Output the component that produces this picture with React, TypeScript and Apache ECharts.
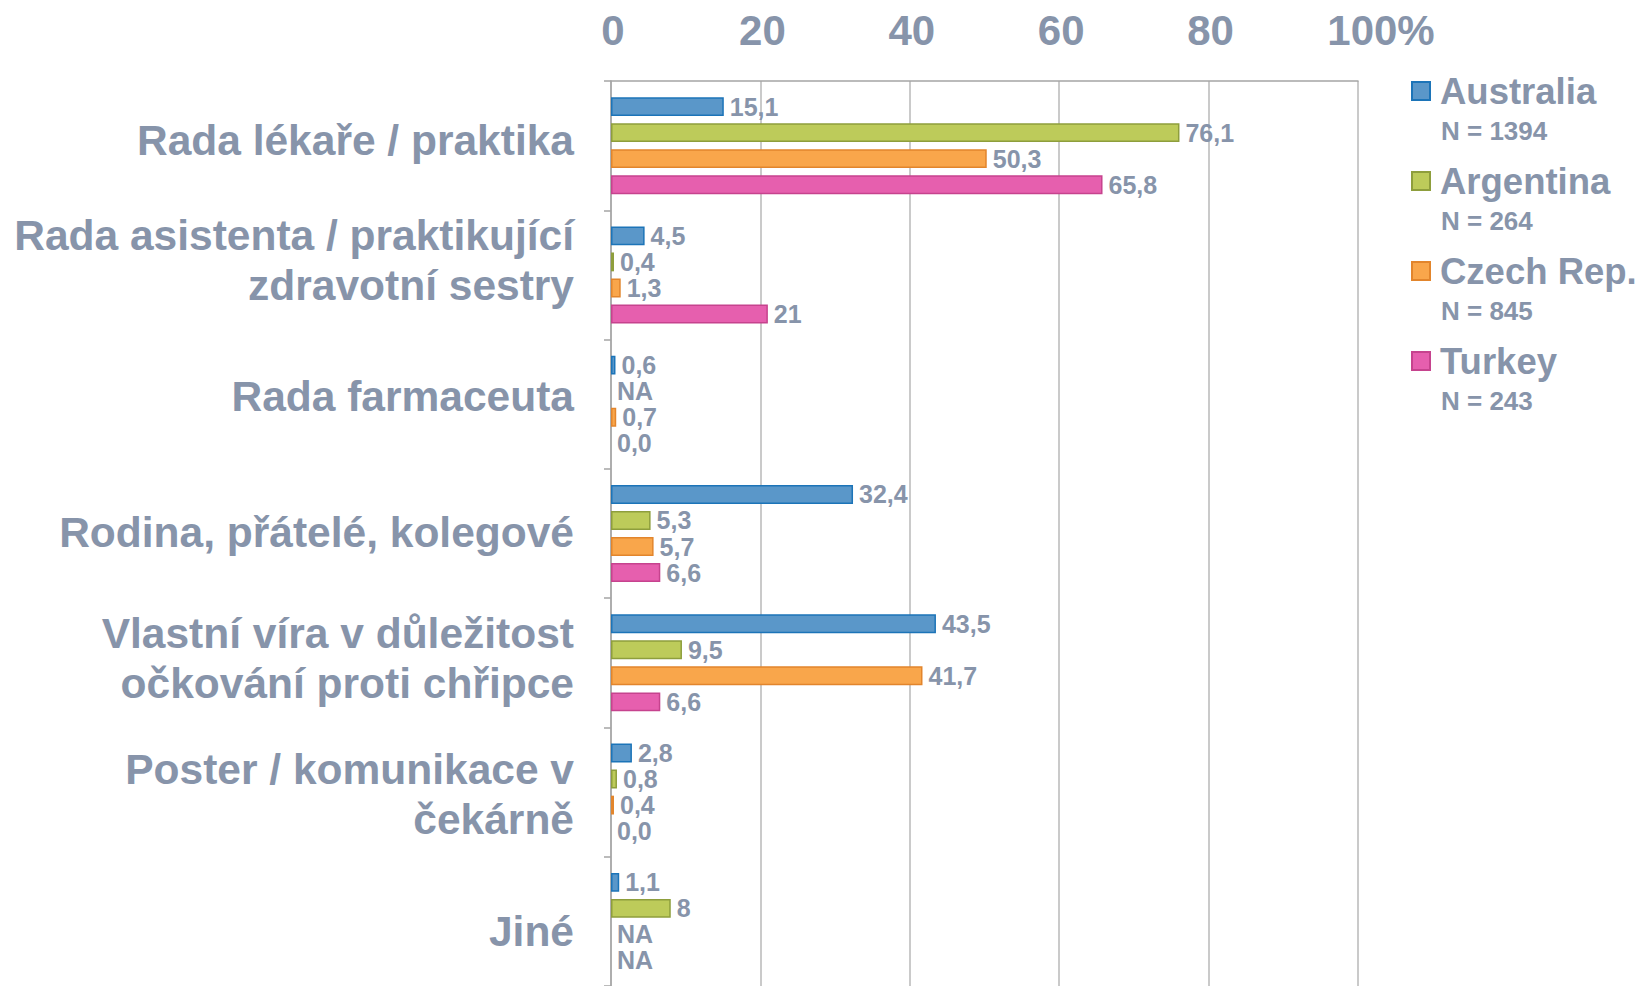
import React, { useEffect, useRef } from 'react';
import * as echarts from 'echarts';

const categories = [
  'Rada lékaře / praktika',
  'Rada asistenta / praktikující\nzdravotní sestry',
  'Rada farmaceuta',
  'Rodina, přátelé, kolegové',
  'Vlastní víra v důležitost\nočkování proti chřipce',
  'Poster / komunikace v\nčekárně',
  'Jiné',
];
const seriesNames = ['Australia', 'Argentina', 'Czech Rep.', 'Turkey'];
const sampleSizes = [1394, 264, 845, 243];
const australia: (number | null)[] = [15.1, 4.5, 0.6, 32.4, 43.5, 2.8, 1.1];
const argentina: (number | null)[] = [76.1, 0.4, null, 5.3, 9.5, 0.8, 8];
const czech: (number | null)[] = [50.3, 1.3, 0.7, 5.7, 41.7, 0.4, null];
const turkey: (number | null)[] = [65.8, 21, 0.0, 6.6, 6.6, 0.0, null];
const xTicks = [0, 20, 40, 60, 80, 100];

const fills = ['#5a97c9', '#bdcb5a', '#f9a64b', '#e65fae'];
const borders = ['#1c74b8', '#8e9e3c', '#e2852c', '#c6438e'];
const TEXT = '#8794aa';
const FONT = '"Liberation Sans", Arial, Helvetica, sans-serif';
// vertical nudges of the category labels in px (negative = up)
const labelShift = [-5, -14, -8, -1, -4, 2, 10];

const fmt = (v: number | null) => {
  if (v === null) return 'NA';
  if (Number.isInteger(v) && v !== 0) return String(v);
  return v.toFixed(1).replace('.', ',');
};

export default function App() {
  const ref = useRef<HTMLDivElement>(null);
  useEffect(() => {
    if (!ref.current) return;
    const chart = echarts.init(ref.current, undefined, { renderer: 'svg' });
    const all = [australia, argentina, czech, turkey];
    const series = all.map((vals, si) => ({
      name: seriesNames[si],
      type: 'bar',
      barCategoryGap: '25%',
      barGap: '38%',
      itemStyle: { color: fills[si], borderColor: borders[si], borderWidth: 1.5 },
      label: {
        show: true,
        position: 'right',
        distance: 6,
        color: TEXT,
        fontFamily: FONT,
        fontWeight: 'bold',
        fontSize: 25,
        lineHeight: 22,
        formatter: (p: any) => fmt(all[p.seriesIndex][p.dataIndex]),
      },
      data: vals.map((v) =>
        v === null || v === 0
          ? { value: 0, itemStyle: { color: 'rgba(0,0,0,0)', borderWidth: 0 } }
          : v
      ),
    }));
    const rich: any = {
      t: { color: TEXT, fontFamily: FONT, fontWeight: 'bold', fontSize: 42.5, lineHeight: 50, align: 'right' },
    };
    labelShift.forEach((s, i) => {
      rich['sp' + i] = { fontSize: 1, lineHeight: Math.max(1, Math.abs(s) * 2), height: Math.max(1, Math.abs(s) * 2) };
    });
    chart.setOption({
      animation: false,
      grid: { left: 611, top: 81, width: 747, height: 910, containLabel: false },
      xAxis: {
        type: 'value',
        position: 'top',
        min: xTicks[0],
        max: xTicks[xTicks.length - 1],
        interval: 20,
        axisLine: { show: true, lineStyle: { color: '#a5a5a5', width: 1.5 } },
        axisTick: { show: false },
        splitLine: { show: true, lineStyle: { color: '#b9b9b9', width: 1.5 } },
        axisLabel: {
          margin: 30,
          color: TEXT,
          fontFamily: FONT,
          fontWeight: 'bold',
          fontSize: 42,
          formatter: (v: number) =>
            v === 100 ? '{pad2|}{n|100}{n|%}' : '{pad|}{n|' + v + '}',
          rich: {
            n: { color: TEXT, fontFamily: FONT, fontWeight: 'bold', fontSize: 42 },
            pad: { width: 4 },
            pad2: { width: 46 },
          },
        },
      },
      yAxis: {
        type: 'category',
        inverse: true,
        data: categories,
        axisLine: { show: true, lineStyle: { color: '#a5a5a5', width: 1.5 } },
        axisTick: { show: true, length: 7, lineStyle: { color: '#a5a5a5', width: 1.5 } },
        splitLine: { show: false },
        axisLabel: {
          margin: 37,
          color: TEXT,
          fontFamily: FONT,
          fontWeight: 'bold',
          fontSize: 42.5,
          lineHeight: 50,
          align: 'right',
          rich,
          formatter: (value: string, index: number) => {
            const body = value
              .split('\n')
              .map((l) => '{t|' + l + '}')
              .join('\n');
            const s = labelShift[index] || 0;
            if (s < 0) return body + '\n{sp' + index + '| }';
            if (s > 0) return '{sp' + index + '| }\n' + body;
            return body;
          },
        },
      },
      legend: {
        orient: 'vertical',
        left: 1411,
        top: 71,
        padding: 0,
        icon: 'rect',
        itemWidth: 18,
        itemHeight: 18,
        itemGap: 50,
        data: seriesNames,
        textStyle: {
          color: TEXT,
          fontFamily: FONT,
          fontWeight: 'bold',
          fontSize: 36.5,
          lineHeight: 40,
          padding: [0, 0, 0, 5],
        },
      },
      graphic: sampleSizes.map((n, i) => ({
        type: 'text',
        x: 1441,
        y: 131 + i * 90,
        style: {
          text: 'N = ' + n,
          fill: TEXT,
          font: 'bold 26px ' + FONT,
          verticalAlign: 'middle',
          align: 'left',
        },
      })),
      series,
    });
    return () => chart.dispose();
  }, []);
  return (
    <div
      ref={ref}
      style={{ position: 'absolute', left: 0, top: 0, width: 1643, height: 986, background: '#fff' }}
    />
  );
}
